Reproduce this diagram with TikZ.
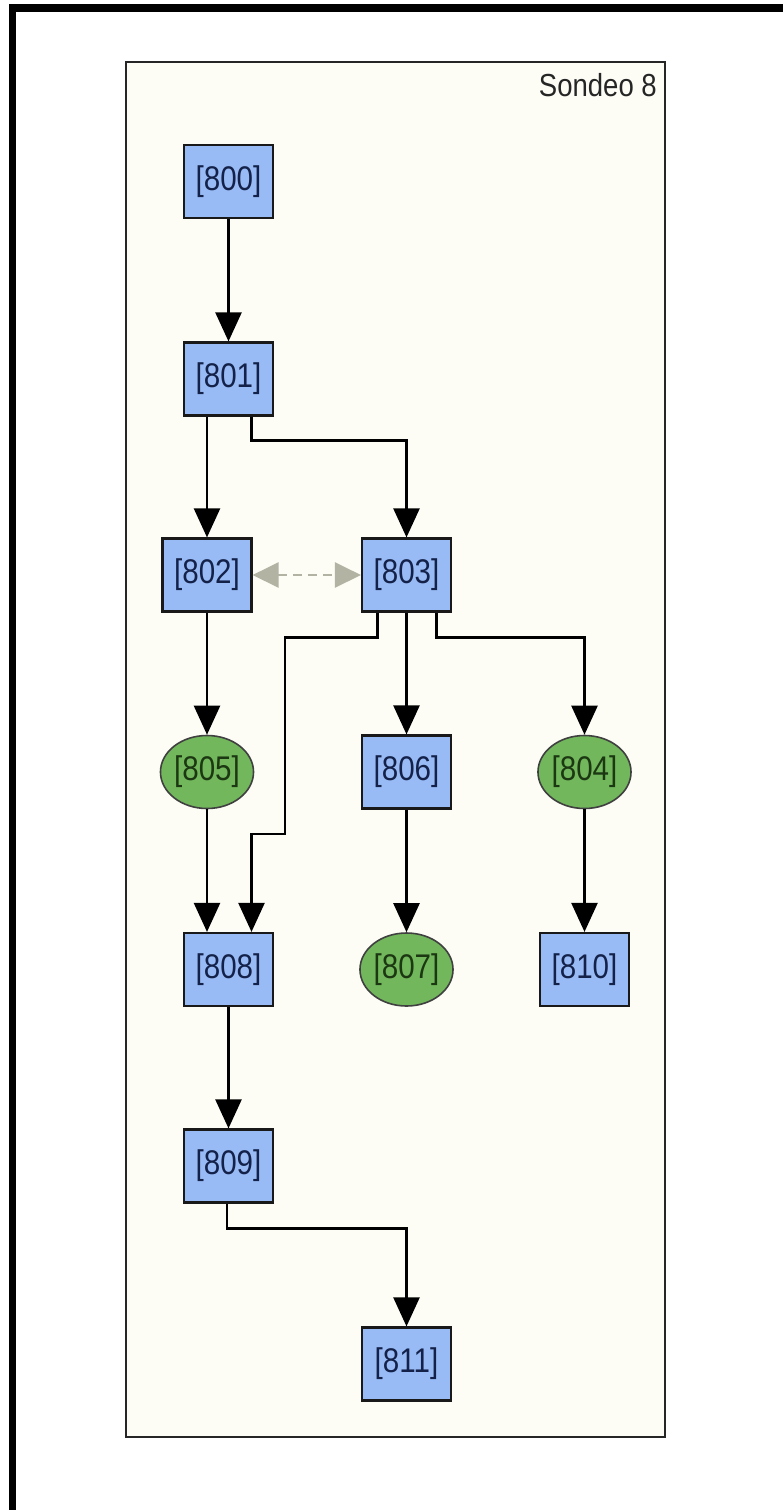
\documentclass[tikz,border=0pt]{standalone}
\usepackage{fontspec}
\setmainfont{Liberation Sans}
\usetikzlibrary{arrows.meta,shapes.geometric}

\definecolor{panelfill}{HTML}{FDFDF6}
\definecolor{boxfill}{HTML}{99BBF5}
\definecolor{ovalfill}{HTML}{72B75C}
\definecolor{boxtext}{HTML}{14224A}
\definecolor{ovaltext}{HTML}{1C3812}
\definecolor{linkgrey}{HTML}{B3B3A3}

\newcommand{\lbl}[1]{\scalebox{1.02}[1.18]{#1}}

\tikzset{
  unit/.style={rectangle, draw=black!90, line width=2.2pt, fill=boxfill,
    minimum width=89pt, minimum height=73pt, inner sep=0pt,
    text=boxtext, font=\fontsize{29}{29}\selectfont},
  oval/.style={ellipse, draw=black!75, line width=1.6pt, fill=ovalfill,
    minimum width=89pt, minimum height=73pt, inner sep=0pt,
    text=ovaltext, font=\fontsize{29}{29}\selectfont},
  arr/.style={line width=2.4pt, draw=black, -{Triangle[width=26pt,length=29pt]}},
  same/.style={line width=2.8pt, draw=linkgrey, dash pattern=on 9pt off 6pt,
    {Triangle[width=25pt,length=26pt]}-{Triangle[width=25pt,length=26pt]}}
}

\begin{document}
\begin{tikzpicture}[x=1pt,y=-1pt]
  \useasboundingbox (0,0) rectangle (783,1510);
  % outer frame: left and top edges only
  \fill[black] (9,4) rectangle (783,12);
  \fill[black] (9,4) rectangle (16,1510);

  % panel
  \draw[line width=2.2pt, draw=black!85, fill=panelfill] (126,62) rectangle (665,1437);
  \node[anchor=base east, inner sep=0pt, text=black!85,
        font=\fontsize{27}{27}\selectfont] (title) at (657,96) {\lbl{Sondeo 8}};

  % units
  \node[unit] (n800) at (228.5,181.5) {\lbl{[800]}};
  \node[unit] (n801) at (228.5,379) {\lbl{[801]}};
  \node[unit] (n802) at (207,575) {\lbl{[802]}};
  \node[unit] (n803) at (406.5,575) {\lbl{[803]}};
  \node[oval] (n805) at (207,772) {\lbl{[805]}};
  \node[unit] (n806) at (406.5,772) {\lbl{[806]}};
  \node[oval] (n804) at (584.5,772) {\lbl{[804]}};
  \node[unit] (n808) at (228.5,969.5) {\lbl{[808]}};
  \node[oval] (n807) at (406.5,969.5) {\lbl{[807]}};
  \node[unit] (n810) at (584.5,969.5) {\lbl{[810]}};
  \node[unit] (n809) at (228.5,1166) {\lbl{[809]}};
  \node[unit] (n811) at (406.5,1364) {\lbl{[811]}};

  % stratigraphic relations
  \draw[arr] (n800) -- (n801);
  \draw[arr] (n801.south -| n802.north) -- (n802.north);
  \draw[arr] ([xshift=23pt]n801.south) -- ++(0,24) -| (n803.north);
  \draw[same] (n802.east) -- (n803.west);
  \draw[arr] (n802) -- (n805);
  \draw[arr] (n803) -- (n806);
  \draw[arr] ([xshift=30pt]n803.south) -- ++(0,25) -| (n804.north);
  \draw[arr] ([xshift=-29pt]n803.south) -- ++(0,25) -| (285,834)
             -| ([xshift=23pt]n808.north);
  \draw[arr] (n805.south) -- (n805.south |- n808.north);
  \draw[arr] (n806) -- (n807);
  \draw[arr] (n804) -- (n810);
  \draw[arr] (n808) -- (n809);
  \draw[arr] ([xshift=-1.5pt]n809.south) -- ++(0,25) -| (n811.north);
\end{tikzpicture}
\end{document}
